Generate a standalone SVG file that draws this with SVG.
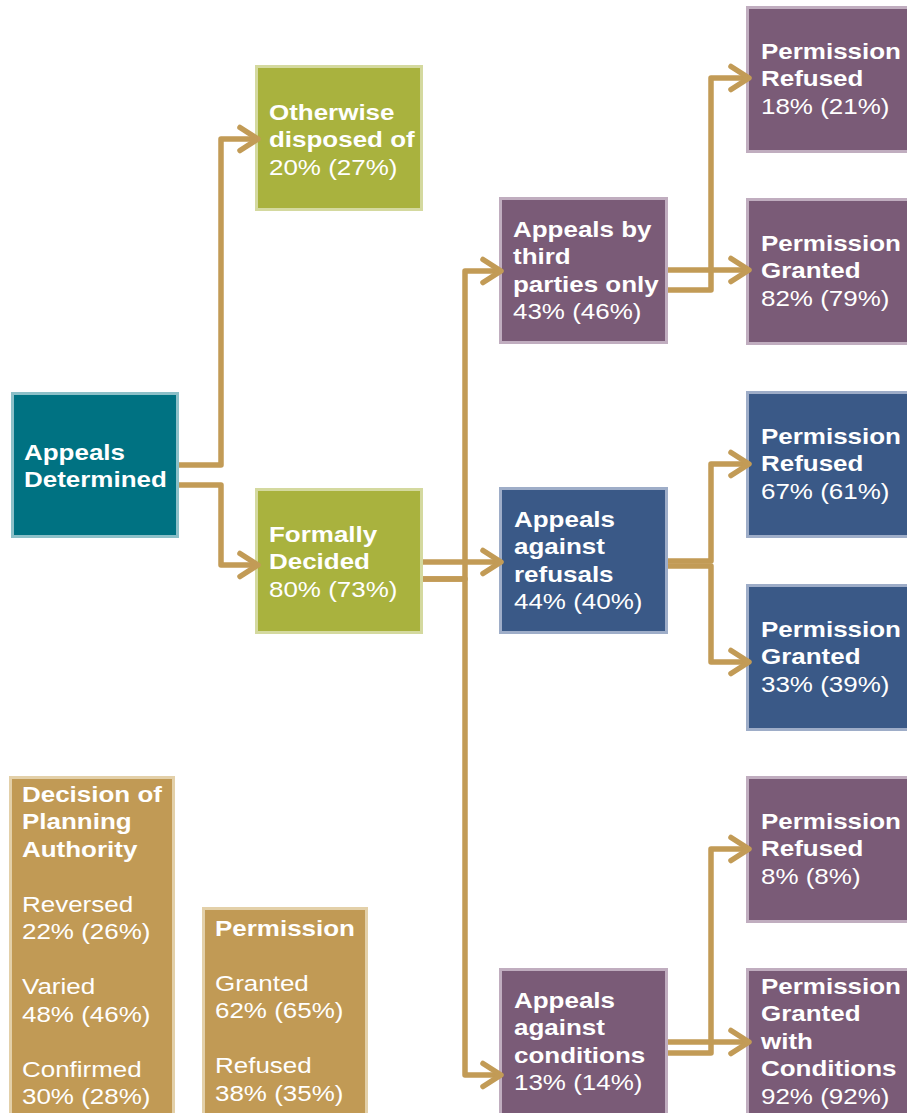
<svg xmlns="http://www.w3.org/2000/svg" width="907" height="1113" viewBox="0 0 907 1113">
<style>
text{font-family:"Liberation Sans",Arial,sans-serif;font-size:22.3px;fill:#ffffff}
.b{font-weight:bold}
.teal{fill:#007282;stroke:#8cc0c8;stroke-width:3}
.olive{fill:#a9b23e;stroke:#d4d99f;stroke-width:3}
.purple{fill:#7a5b77;stroke:#c0adbf;stroke-width:3}
.blue{fill:#3a5987;stroke:#9eadc8;stroke-width:3}
.tan{fill:#c19a55;stroke:#e3d0a9;stroke-width:3}
.conn path{fill:none;stroke:#c29b56;stroke-width:5.5;stroke-linejoin:round;marker-end:url(#arr)}
</style>
<defs>
<marker id="arr" markerUnits="userSpaceOnUse" markerWidth="30" markerHeight="30" refX="0" refY="0" viewBox="-22 -15 26 30" orient="auto" overflow="visible">
<path d="M-18,-11.5 L0,0 L-18,11.5" fill="none" stroke="#c29b56" stroke-width="5.5" stroke-linecap="round" stroke-linejoin="round"/>
</marker>
</defs>
<rect width="907" height="1113" fill="#ffffff"/>

<g id="appeals-determined">
<rect class="teal" x="12.5" y="393.5" width="165" height="143"/>
<text transform="matrix(1.165,0,0,1,24,460)" class="b"><tspan x="0" y="0">Appeals</tspan><tspan x="0" y="27">Determined</tspan></text>
</g>

<g id="otherwise-disposed">
<rect class="olive" x="256.5" y="66.5" width="165" height="143"/>
<text transform="matrix(1.165,0,0,1,269,120)"><tspan class="b" x="0" y="0">Otherwise</tspan><tspan class="b" x="0" y="27.5">disposed of</tspan><tspan x="0" y="55">20% (27%)</tspan></text>
</g>

<g id="formally-decided">
<rect class="olive" x="256.5" y="489.5" width="165" height="143"/>
<text transform="matrix(1.165,0,0,1,269,542)"><tspan class="b" x="0" y="0">Formally</tspan><tspan class="b" x="0" y="27.5">Decided</tspan><tspan x="0" y="55">80% (73%)</tspan></text>
</g>

<g id="third-parties">
<rect class="purple" x="500.5" y="198.5" width="166" height="144"/>
<text transform="matrix(1.165,0,0,1,513,237)"><tspan class="b" x="0" y="0">Appeals by</tspan><tspan class="b" x="0" y="27.5">third</tspan><tspan class="b" x="0" y="55">parties only</tspan><tspan x="0" y="82.5">43% (46%)</tspan></text>
</g>

<g id="against-refusals">
<rect class="blue" x="500.5" y="488.5" width="166" height="144"/>
<text transform="matrix(1.165,0,0,1,514,527)"><tspan class="b" x="0" y="0">Appeals</tspan><tspan class="b" x="0" y="27.5">against</tspan><tspan class="b" x="0" y="55">refusals</tspan><tspan x="0" y="82.5">44% (40%)</tspan></text>
</g>

<g id="against-conditions">
<rect class="purple" x="500.5" y="969.5" width="166" height="170"/>
<text transform="matrix(1.165,0,0,1,514,1008)"><tspan class="b" x="0" y="0">Appeals</tspan><tspan class="b" x="0" y="27.5">against</tspan><tspan class="b" x="0" y="55">conditions</tspan><tspan x="0" y="82.5">13% (14%)</tspan></text>
</g>

<g id="tp-refused">
<rect class="purple" x="747.5" y="7.5" width="175" height="144"/>
<text transform="matrix(1.165,0,0,1,761,59)"><tspan class="b" x="0" y="0">Permission</tspan><tspan class="b" x="0" y="27.5">Refused</tspan><tspan x="0" y="55">18% (21%)</tspan></text>
</g>

<g id="tp-granted">
<rect class="purple" x="747.5" y="199.5" width="175" height="144"/>
<text transform="matrix(1.165,0,0,1,761,251)"><tspan class="b" x="0" y="0">Permission</tspan><tspan class="b" x="0" y="27.5">Granted</tspan><tspan x="0" y="55">82% (79%)</tspan></text>
</g>

<g id="ref-refused">
<rect class="blue" x="747.5" y="392.5" width="175" height="144"/>
<text transform="matrix(1.165,0,0,1,761,444)"><tspan class="b" x="0" y="0">Permission</tspan><tspan class="b" x="0" y="27.5">Refused</tspan><tspan x="0" y="55">67% (61%)</tspan></text>
</g>

<g id="ref-granted">
<rect class="blue" x="747.5" y="585.5" width="175" height="144"/>
<text transform="matrix(1.165,0,0,1,761,637)"><tspan class="b" x="0" y="0">Permission</tspan><tspan class="b" x="0" y="27.5">Granted</tspan><tspan x="0" y="55">33% (39%)</tspan></text>
</g>

<g id="cond-refused">
<rect class="purple" x="747.5" y="777.5" width="175" height="144"/>
<text transform="matrix(1.165,0,0,1,761,829)"><tspan class="b" x="0" y="0">Permission</tspan><tspan class="b" x="0" y="27.5">Refused</tspan><tspan x="0" y="55">8% (8%)</tspan></text>
</g>

<g id="cond-granted">
<rect class="purple" x="747.5" y="969.5" width="175" height="170"/>
<text transform="matrix(1.165,0,0,1,761,994)"><tspan class="b" x="0" y="0">Permission</tspan><tspan class="b" x="0" y="27.5">Granted</tspan><tspan class="b" x="0" y="55">with</tspan><tspan class="b" x="0" y="82.5">Conditions</tspan><tspan x="0" y="110">92% (92%)</tspan></text>
</g>

<g id="legend-decision">
<rect class="tan" x="10.5" y="777.5" width="163" height="360"/>
<text transform="matrix(1.165,0,0,1,22,802)"><tspan class="b" x="0" y="0">Decision of</tspan><tspan class="b" x="0" y="27.5">Planning</tspan><tspan class="b" x="0" y="55">Authority</tspan><tspan x="0" y="110">Reversed</tspan><tspan x="0" y="137.5">22% (26%)</tspan><tspan x="0" y="192.5">Varied</tspan><tspan x="0" y="220">48% (46%)</tspan><tspan x="0" y="275">Confirmed</tspan><tspan x="0" y="302.5">30% (28%)</tspan></text>
</g>

<g id="legend-permission">
<rect class="tan" x="203.5" y="908.5" width="163" height="230"/>
<text transform="matrix(1.165,0,0,1,215,936)"><tspan class="b" x="0" y="0">Permission</tspan><tspan x="0" y="55">Granted</tspan><tspan x="0" y="82.5">62% (65%)</tspan><tspan x="0" y="137.5">Refused</tspan><tspan x="0" y="165">38% (35%)</tspan></text>
</g>

<g id="connectors" class="conn">
<path d="M179,465 H221 V139 H258"/>
<path d="M179,485 H221 V565 H258"/>
<path d="M423,579 H465 V271 H501"/>
<path d="M423,562 H501"/>
<path d="M423,579 H465 V1075 H501"/>
<path d="M668,290 H711 V78 H749"/>
<path d="M668,270 H749"/>
<path d="M668,561 H711 V464 H749"/>
<path d="M668,566 H711 V662 H749"/>
<path d="M668,1053 H711 V849 H749"/>
<path d="M668,1042 H749"/>
</g>
</svg>
